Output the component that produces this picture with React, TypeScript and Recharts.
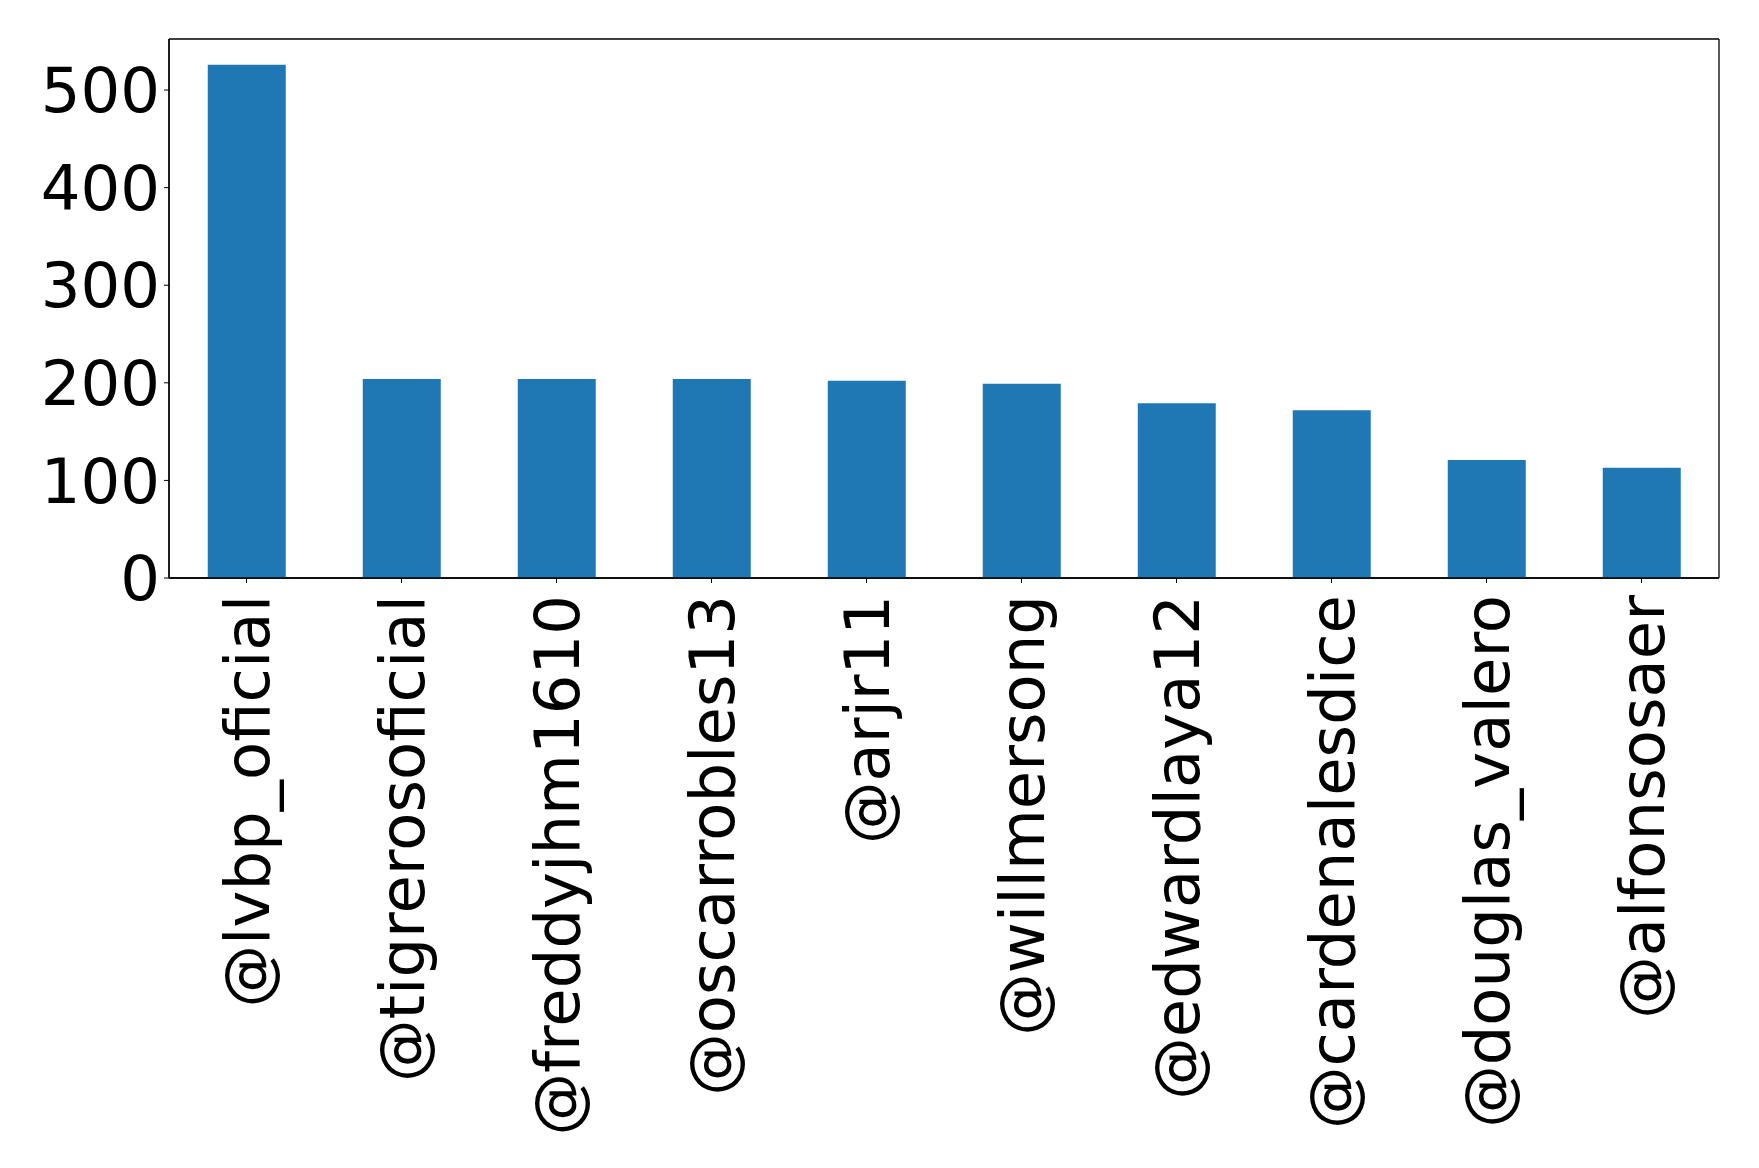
import React from "react";
import { BarChart, Bar, XAxis, YAxis, CartesianGrid } from "recharts";

// handles, in the order they appear
const users = [
  "@lvbp_oficial",
  "@tigrerosoficial",
  "@freddyjhm1610",
  "@oscarrobles13",
  "@arjr11",
  "@willmersong",
  "@edwardlaya12",
  "@cardenalesdice",
  "@douglas_valero",
  "@alfonsosaer",
];
const counts = [526, 204, 204, 204, 202, 199, 179, 172, 121, 113];
const yTicks = [0, 100, 200, 300, 400, 500];

const FONT = "DejaVu Sans";
const FS = 62.5;

const data = users.map((u, i) => ({ user: u, count: counts[i] }));

const RotatedTick = (props: any) => {
  const { x, y, payload } = props;
  return (
    <text
      x={x}
      y={y}
      transform={`rotate(-90, ${x}, ${y})`}
      textAnchor="end"
      dy="0.36em"
      fontFamily={FONT}
      fontSize={FS}
      fill="#000"
    >
      {payload.value}
    </text>
  );
};

export default function App() {
  return (
    <div style={{ position: "absolute", left: 0, top: 0, background: "#fff" }}>
      <BarChart
        width={1759}
        height={1168}
        data={data}
        margin={{ top: 39, right: 40, left: 0, bottom: 0 }}
        barCategoryGap="25%"
      >
        {/* frame: grid lines only on the plot edges */}
        <CartesianGrid
          stroke="#000"
          strokeWidth={1.3}
          horizontalCoordinatesGenerator={({ offset }: any) => [
            offset.top,
            offset.top + offset.height,
          ]}
          verticalCoordinatesGenerator={({ offset }: any) => [
            offset.left,
            offset.left + offset.width,
          ]}
        />
        <XAxis
          dataKey="user"
          interval={0}
          height={590}
          tick={<RotatedTick />}
          tickSize={5}
          tickMargin={12}
          axisLine={{ stroke: "#000", strokeWidth: 1.3 }}
          tickLine={{ stroke: "#000" }}
        />
        <YAxis
          domain={[0, (max: number) => max * 1.05]}
          ticks={yTicks}
          width={169}
          tickSize={5}
          tickMargin={4}
          tick={{ fontFamily: FONT, fontSize: FS, fill: "#000" }}
          axisLine={{ stroke: "#000", strokeWidth: 1.3 }}
          tickLine={{ stroke: "#000" }}
        />
        <Bar dataKey="count" fill="#1f77b4" isAnimationActive={false} />
      </BarChart>
    </div>
  );
}
